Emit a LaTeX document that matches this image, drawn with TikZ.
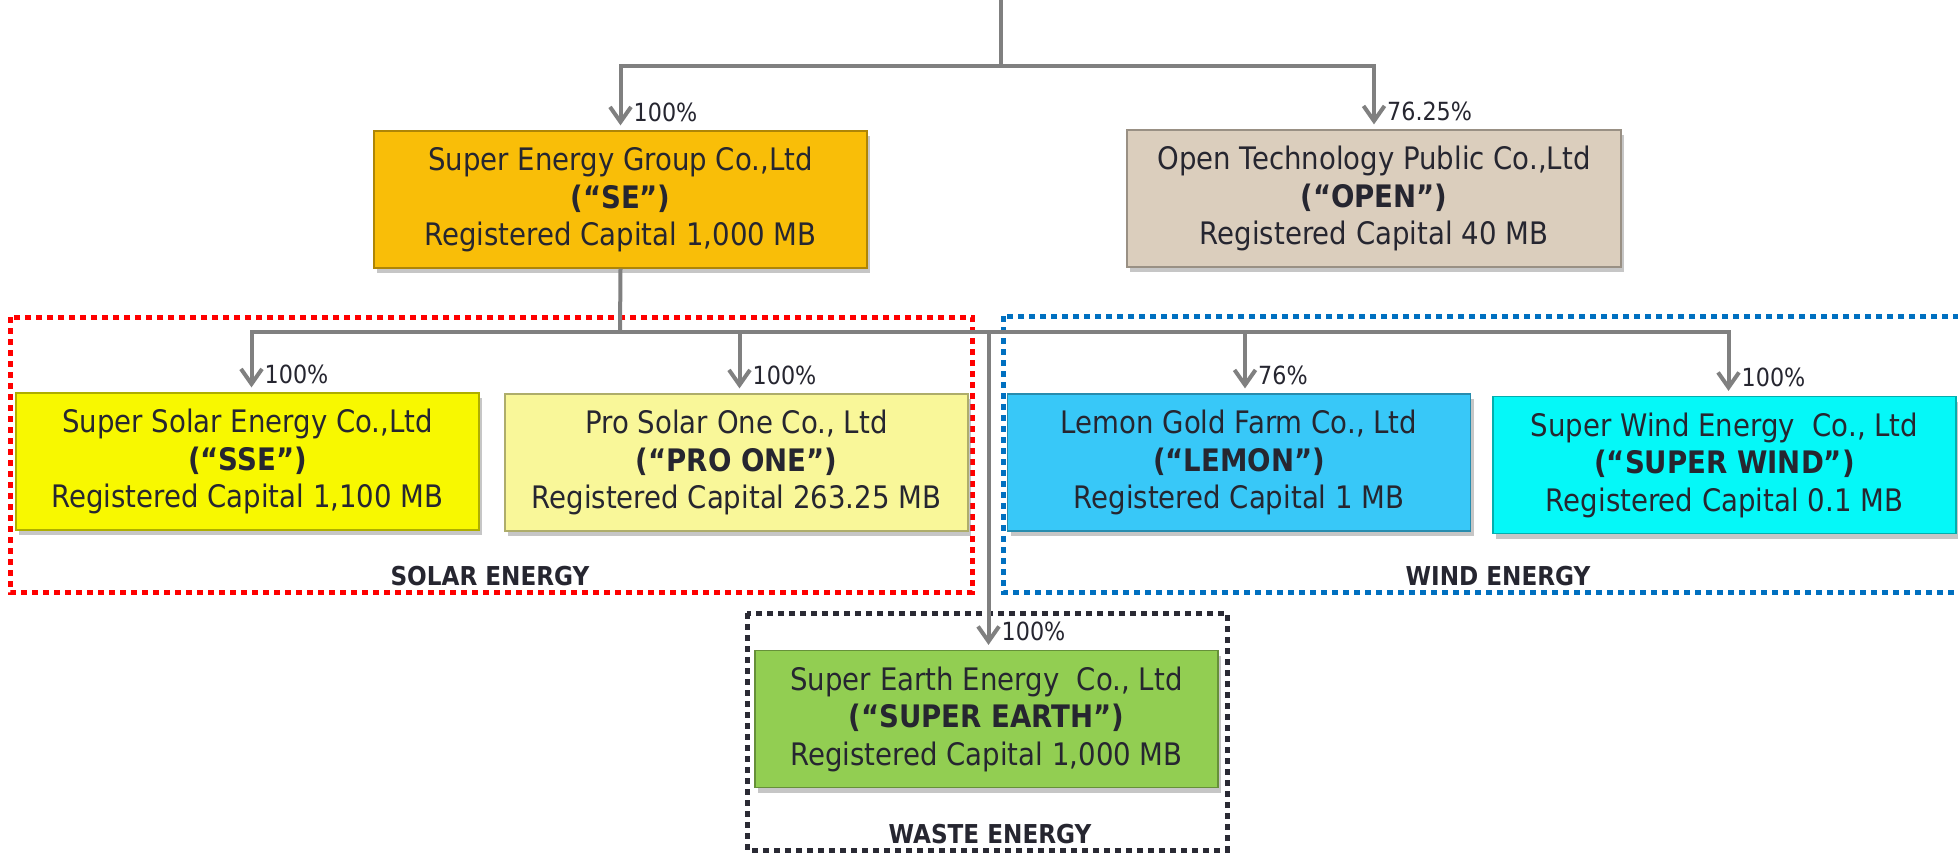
\documentclass[tikz,border=0pt]{standalone}
\usepackage{fontspec}
\setmainfont{DejaVu Sans}[FakeStretch=0.89]
\usepackage{tikz}
\usetikzlibrary{arrows.meta, shadows}

\definecolor{ink}{RGB}{38,38,48}
\definecolor{wire}{RGB}{128,128,128}
\definecolor{seorange}{RGB}{249,190,8}
\definecolor{openbeige}{RGB}{219,206,189}
\definecolor{sseyellow}{RGB}{248,248,0}
\definecolor{proyellow}{RGB}{249,247,153}
\definecolor{lemonblue}{RGB}{56,200,248}
\definecolor{windcyan}{RGB}{5,248,248}
\definecolor{earthgreen}{RGB}{146,206,82}
\definecolor{solarred}{RGB}{255,0,0}
\definecolor{windblue}{RGB}{0,112,192}
\definecolor{wasteblack}{RGB}{42,42,52}

\tikzset{
  firm/.style={draw=#1!70!black, fill=#1, line width=1.2pt, minimum width=463pt,
    minimum height=137pt, inner sep=0pt, align=center, text=ink,
    font=\fontsize{31}{37.5}\selectfont,
    drop shadow={shadow xshift=3pt, shadow yshift=-5pt, opacity=.45}},
  link/.style={draw=wire, line width=4pt},
  arr/.style={link, -{Straight Barb[length=15pt, width=21pt]}, shorten >=5pt},
  pct/.style={text=ink, inner sep=0pt, font=\fontsize{25}{25}\selectfont},
  group/.style={line width=5pt, dash pattern=on 6pt off 5pt},
  grouplabel/.style={text=ink, inner sep=0pt, font=\fontsize{26}{26}\selectfont\bfseries}
}

\begin{document}
\begin{tikzpicture}[x=1pt, y=-1pt]
    \useasboundingbox (0,0) rectangle (1958,853);

    % business groups
    \draw[group, solarred] (10,317) rectangle (972,592);
    \draw[group, windblue] (1003,316) rectangle (1975,592);
    \draw[group, wasteblack] (747,613) rectangle (1227,850);
    \node[grouplabel] (solar) at (490,576) {SOLAR ENERGY};
    \node[grouplabel] (windlbl) at (1498,576) {WIND ENERGY};
    \node[grouplabel] (waste) at (990,834) {WASTE ENERGY};

    % companies
    \node[firm=seorange, minimum width=493pt] (se) at (620.5,199.5) {Super Energy Group Co.,Ltd\\ {\bfseries (“SE”)}\\ Registered Capital 1,000 MB};
    \node[firm=openbeige, minimum width=494pt] (open) at (1374,198.5) {Open Technology Public Co.,Ltd\\ {\bfseries (“OPEN”)}\\ Registered Capital 40 MB};
    \node[firm=sseyellow] (sse) at (247.5,461.5) {Super Solar Energy Co.,Ltd\\ {\bfseries (“SSE”)}\\ Registered Capital 1,100 MB};
    \node[firm=proyellow] (pro) at (736.5,462.5) {Pro Solar One Co., Ltd\\ {\bfseries (“PRO ONE”)}\\ Registered Capital 263.25 MB};
    \node[firm=lemonblue] (lemon) at (1239,462.5) {Lemon Gold Farm Co., Ltd\\ {\bfseries (“LEMON”)}\\ Registered Capital 1 MB};
    \node[firm=windcyan] (wind) at (1724.5,465) {Super Wind Energy~ Co., Ltd\\ {\bfseries (“SUPER WIND”)}\\ Registered Capital 0.1 MB};
    \node[firm=earthgreen] (earth) at (986.5,719) {Super Earth Energy~ Co., Ltd\\ {\bfseries (“SUPER EARTH”)}\\ Registered Capital 1,000 MB};

    % shareholding lines
    \coordinate (root) at (1001,0);
    \coordinate (rootbar) at (1001,66);
    \draw[link] (root) -- (rootbar);
    \draw[arr] (rootbar) -| (se.north);
    \draw[arr] (rootbar) -| (open.north);

    \draw[link] (se.south) -- (620,332) coordinate (sebar);
    \draw[arr] (sebar) -| ([xshift=4pt]sse.north);
    \draw[arr] (sebar) -| ([xshift=3pt]pro.north);
    \draw[arr] (sebar) -| ([xshift=6pt]lemon.north);
    \draw[arr] (sebar) -| ([xshift=4pt]wind.north);
    \draw[arr] (sebar) -| ([xshift=2pt]earth.north);

    % percentages
    \node[pct, anchor=base west] (pse) at ([xshift=13pt, yshift=9pt]se.north) {100\%};
    \node[pct, anchor=base west] (popen) at ([xshift=13pt, yshift=9pt]open.north) {76.25\%};
    \node[pct, anchor=base west] (psse) at ([xshift=17pt, yshift=9pt]sse.north) {100\%};
    \node[pct, anchor=base west] (ppro) at ([xshift=16pt, yshift=9pt]pro.north) {100\%};
    \node[pct, anchor=base west] (plemon) at ([xshift=19pt, yshift=9pt]lemon.north) {76\%};
    \node[pct, anchor=base west] (pwind) at ([xshift=17pt, yshift=9pt]wind.north) {100\%};
    \node[pct, anchor=base west] (pearth) at ([xshift=15pt, yshift=9pt]earth.north) {100\%};

\end{tikzpicture}
\end{document}
